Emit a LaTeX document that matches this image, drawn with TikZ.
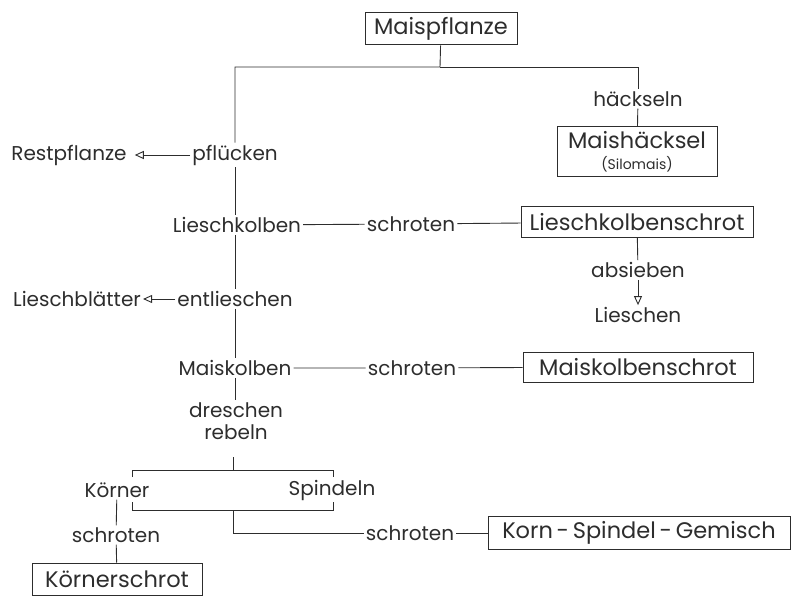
\documentclass[tikz,border=0pt]{standalone}
\usepackage{fontspec}
\setmainfont{Poppins}
\usetikzlibrary{arrows.meta,positioning}
\definecolor{inkGray}{RGB}{45,45,45}

\begin{document}
\begin{tikzpicture}[x=1pt,y=-1pt,
    box/.style={draw=inkGray,text=inkGray,inner sep=0pt,line width=1pt,font=\fontsize{22.5}{24}\selectfont},
    lbl/.style={text=inkGray,inner sep=2pt,font=\fontsize{20}{22}\selectfont},
    link/.style={draw=inkGray,line width=0.9pt},
    arrow/.style={draw=inkGray,line width=0.9pt,-{Triangle[open,length=9pt,width=8pt]}}
  ]
  \useasboundingbox (0,0) rectangle (792,596);

  % main column
  \node[box,minimum width=152pt,minimum height=32pt] (mais) at (441,29) {Maispflanze};
  \node[lbl] (pfl) at (235,155) {pflücken};
  \node[lbl] (rest) at (69,155) {Restpflanze};
  \node[lbl] (lk) at (237,225) {Lieschkolben};
  \node[lbl] (entl) at (235,299) {entlieschen};
  \node[lbl] (lblatt) at (77,299) {Lieschblätter};
  \node[lbl] (mk) at (235,368) {Maiskolben};
  \node[lbl,align=center] (dr) at (236,421) {dreschen\\rebeln};
  \node[lbl] (koe) at (117,490) {Körner};
  \node[lbl] (spi) at (332,490) {Spindeln};
  \node[lbl] (s4) at (116,535) {schroten};
  \node[box,minimum width=170pt,minimum height=32pt] (ks) at (117,579) {Körnerschrot};

  % right side
  \node[lbl] (haeck) at (638,99) {häckseln};
  \node[box,minimum width=160pt,minimum height=50pt,align=center] (mhk) at (637,152)
    {Maishäcksel\\[-3pt]{\fontsize{14}{16}\selectfont(Silomais)}};
  \node[lbl] (s1) at (411,224) {schroten};
  \node[box,minimum width=232pt,minimum height=31pt] (lks) at (637,222) {Lieschkolbenschrot};
  \node[lbl] (absb) at (638,270) {absieben};
  \node[lbl] (lsch) at (638,315) {Lieschen};
  \node[lbl] (s2) at (412,368) {schroten};
  \node[box,minimum width=230pt,minimum height=30pt] (mks) at (638,367) {Maiskolbenschrot};
  \node[lbl] (s3) at (410,533) {schroten};
  \node[box,minimum width=302pt,minimum height=33pt] (ksg) at (639,533) {Korn\,-\,Spindel\,-\,Gemisch};

  \coordinate (split) at (440,67);
  \coordinate (stub) at (233,457);
  \coordinate (bt) at (233,470);
  \coordinate (bb) at (233,510);

  \draw[link] (mais) -- (split) -| (pfl);
  \draw[link] (split) -| (haeck);
  \draw[link] (haeck) -- (mhk);
  \draw[arrow,shorten >=6pt] (pfl) -- (rest);
  \draw[link] (pfl) -- (pfl |- lk.north);
  \draw[link] (lk) -- (s1) -- (lks);
  \draw[link] (lks) -- (absb);
  \draw[arrow] (absb) -- (lsch);
  \draw[link] (entl |- lk.south) -- (entl);
  \draw[arrow] (entl) -- (lblatt);
  \draw[link] (entl) -- (mk);
  \draw[link] (mk) -- (s2) -- (mks);
  \draw[link] (mk) -- (mk |- dr.north);
  % bracket round Koerner and Spindeln
  \draw[link] (stub) -- (bt);
  \draw[link] (132,477) -- (132,470) -- (333,470) -- (333,477);
  \draw[link] (132,502) -- (132,510) -- (333,510) -- (333,502);
  \draw[link] (bb) |- (s3);
  \draw[link] (s3) -- (ksg);
  \draw[link] (koe) -- (s4) -- (ks);
\end{tikzpicture}
\end{document}
